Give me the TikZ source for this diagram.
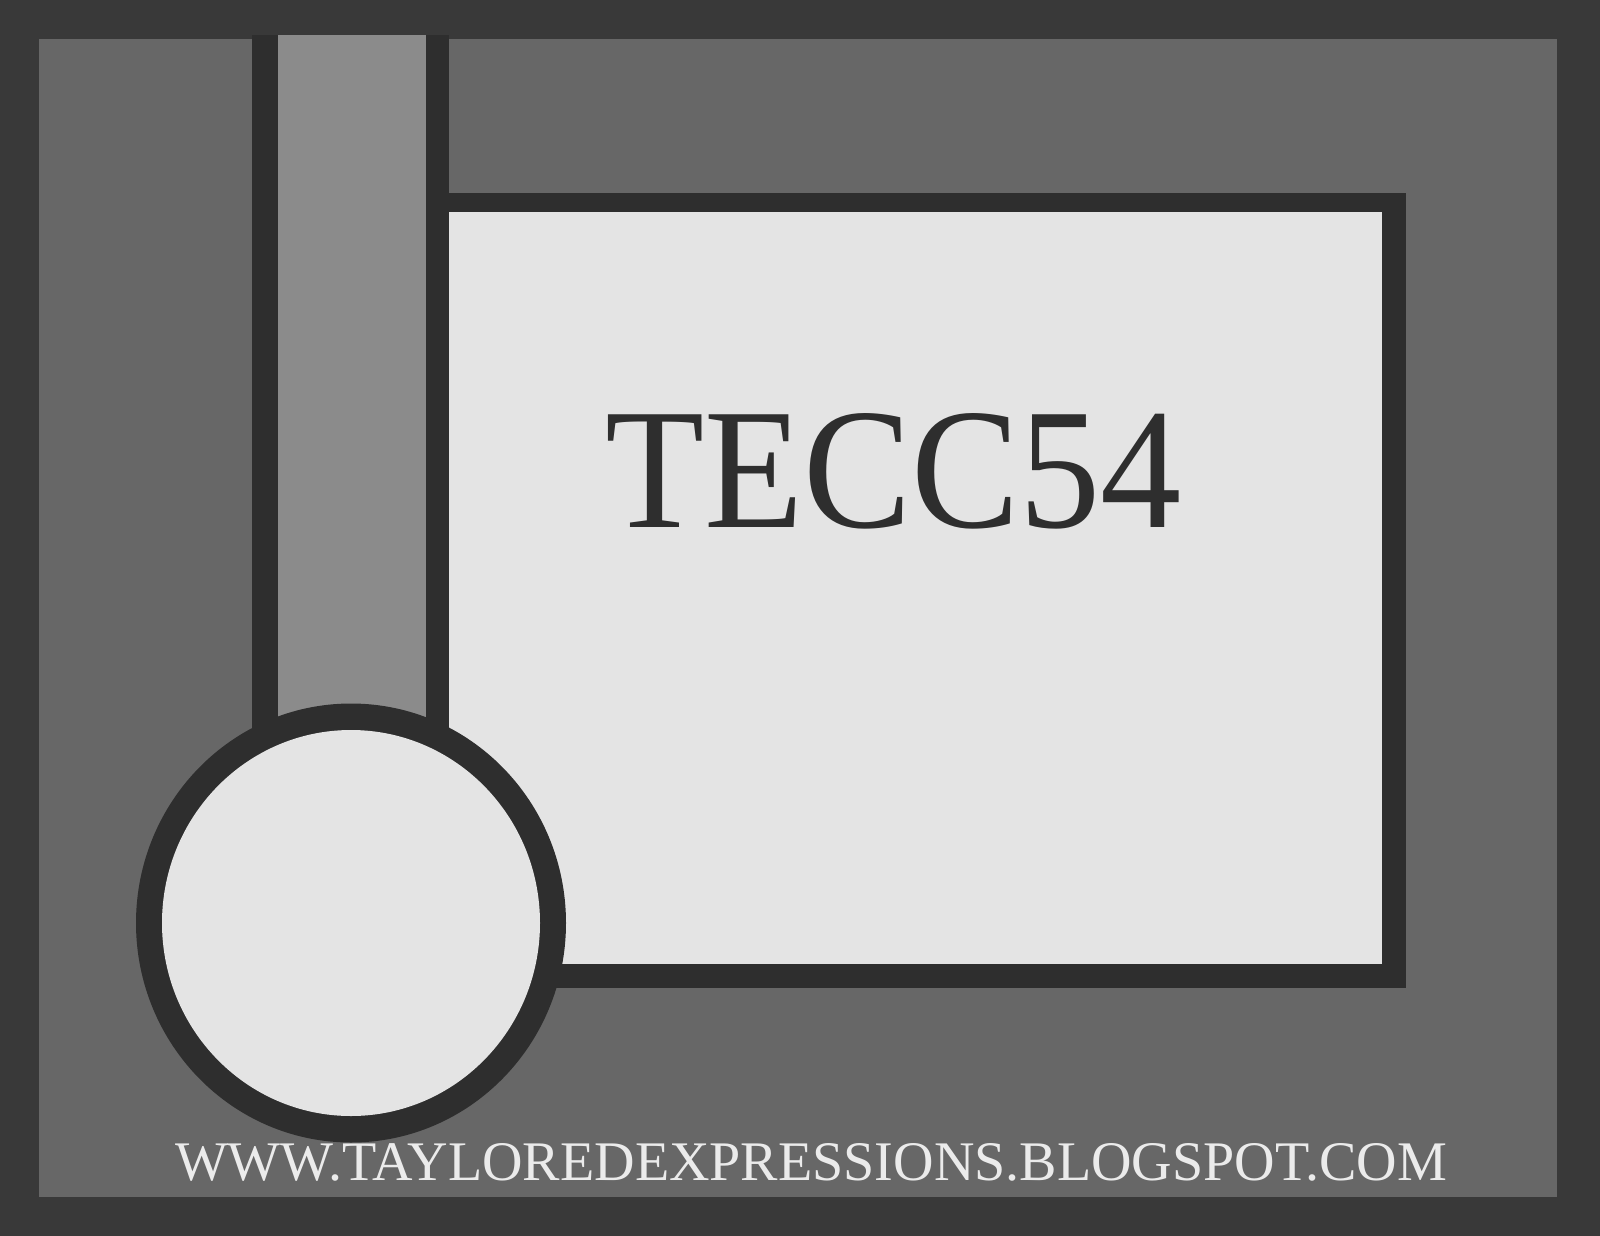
\documentclass[tikz,border=0pt]{standalone}
\usepackage{fontspec}
\setmainfont{Liberation Serif}
\definecolor{frame}{HTML}{393939}
\definecolor{panel}{HTML}{676767}
\definecolor{strip}{HTML}{8B8B8B}
\definecolor{ink}{HTML}{2E2E2E}
\definecolor{paper}{HTML}{E4E4E4}
\definecolor{urltext}{HTML}{EBEBEB}
\tikzset{
  txt/.style={inner sep=0pt, outer sep=0pt, anchor=base west},
}
\begin{document}
\begin{tikzpicture}[x=1pt,y=-1pt]
\useasboundingbox (0,0) rectangle (1600,1236);
% outer frame and panel
\fill[frame] (0,0) rectangle (1600,1236);
\fill[panel] (39,39) rectangle (1557,1197);
% main rectangle
\fill[ink] (426,193) rectangle (1406,988);
\fill[paper] (449,212) rectangle (1382,964);
% vertical strip
\fill[ink] (252,35) rectangle (449,820);
\fill[strip] (278,35) rectangle (426,820);
% circle
\fill[ink] (351,923) ellipse [x radius=215, y radius=219.5];
\fill[paper] (351,923) ellipse [x radius=189, y radius=193];
% texts
\node[txt, text=ink] (title) at (605,527)
  {\resizebox{577pt}{114pt}{\fontsize{172}{172}\selectfont TECC54}};
\node[txt, text=urltext] (url) at (175,1180)
  {\resizebox{1272pt}{37pt}{\fontsize{56}{56}\selectfont WWW.TAYLOREDEXPRESSIONS.BLOGSPOT.COM}};
\end{tikzpicture}
\end{document}
